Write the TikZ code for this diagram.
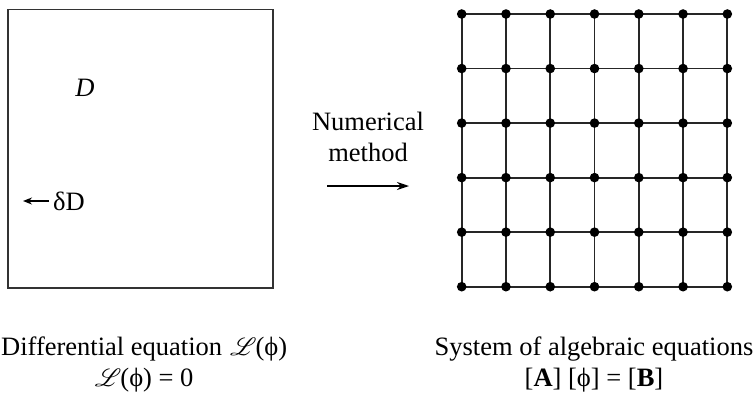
\documentclass[tikz,border=0pt]{standalone}
\usepackage{fontspec}
\setmainfont{Liberation Serif}
\usepackage{mathrsfs}
\usetikzlibrary{arrows.meta}
\begin{document}
\begin{tikzpicture}[x=1pt,y=-1pt,
  txt/.style={inner sep=0pt,font=\fontsize{26.5}{31}\selectfont},
  gline/.style={line width=1.8pt,draw=black!85},
  dot/.style={circle,fill=black,inner sep=0pt,minimum size=9.6pt}]
\useasboundingbox (0,0) rectangle (755,402);
% domain square
\draw[line width=1.8pt,draw=black!80] (8,9.5) rectangle (273,288);
\node[txt] (D) at (85,88) {\textit{D}};
\node[txt,anchor=west] (dD) at (53,201) {δD};
\coordinate (dDtip) at (23,201);
\draw[line width=1.5pt,-{Stealth[length=9pt,width=7pt]}] (dD.west) ++(-4,0) -- (dDtip);
% numerical method arrow
\node[txt,align=center] (nm) at (368,137) {Numerical\\method};
\coordinate (a1) at (327,186);
\coordinate (a2) at (409,186);
\draw[line width=1.5pt,-{Stealth[length=12pt,width=8pt]}] (a1) -- (a2);
% grid
\foreach \i in {0,...,6} {
  \draw[gline] ({461.7+44.27*\i},14) -- ({461.7+44.27*\i},286.7);
}
\foreach \j in {0,...,5} {
  \draw[gline] (461.7,{14+54.54*\j}) -- (727.3,{14+54.54*\j});
}
\foreach \i in {0,...,6} {
  \foreach \j in {0,...,5} {
    \node[dot] (g\i\j) at ({461.7+44.27*\i},{14+54.54*\j}) {};
  }
}
% captions
\node[txt,align=center,anchor=west] (lc) at (1,364) {Differential equation\hspace{0.3em}$\mathscr{L}$\kern-1pt(ϕ)\\$\mathscr{L}$\kern-1pt(ϕ) = 0};
\node[txt,align=center] (rc) at (594,364) {System of algebraic equations\\{}[\textbf{A}] [ϕ] = [\textbf{B}]};
\end{tikzpicture}
\end{document}
